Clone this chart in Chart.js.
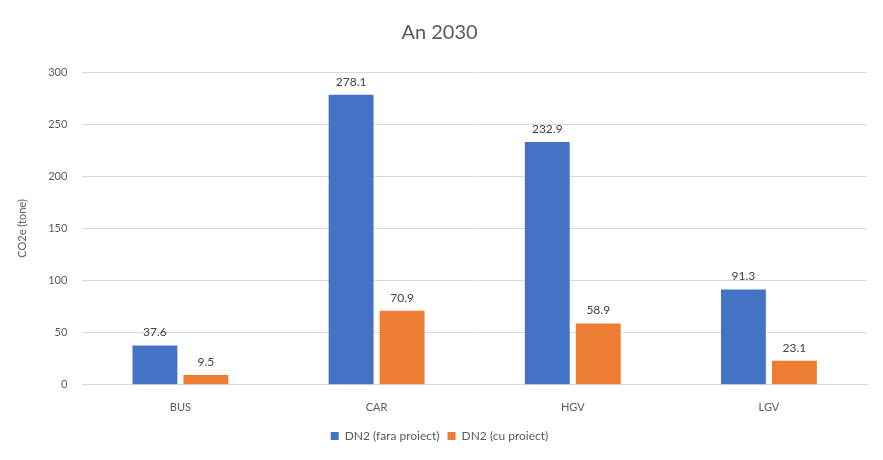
<!DOCTYPE html>
<html>
<head>
<meta charset="utf-8">
<script src="https://cdn.jsdelivr.net/npm/chart.js@4.4.0/dist/chart.umd.min.js"></script>
<style>
  html, body { margin: 0; padding: 0; background: #fff; }
  #wrap { width: 883px; height: 460px; }
</style>
</head>
<body>
<div id="wrap"><canvas id="co2Chart"></canvas></div>
<script>
const categories = ['BUS', 'CAR', 'HGV', 'LGV'];
const withoutProject = [37.6, 278.1, 232.9, 91.3];
const withProject = [9.5, 70.9, 58.9, 23.1];
const yTicks = [0, 50, 100, 150, 200, 250, 300];

// Draw the value above each bar
const valueLabels = {
  id: 'valueLabels',
  afterDatasetsDraw(chart) {
    const ctx = chart.ctx;
    ctx.save();
    ctx.font = '12px Lato';
    ctx.fillStyle = '#404040';
    ctx.textAlign = 'center';
    ctx.textBaseline = 'bottom';
    chart.data.datasets.forEach((ds, i) => {
      chart.getDatasetMeta(i).data.forEach((bar, j) => {
        ctx.fillText(ds.data[j].toFixed(1), bar.x, bar.y - 7);
      });
    });
    ctx.restore();
  }
};

document.addEventListener('DOMContentLoaded', function() {
  const ctx = document.getElementById('co2Chart').getContext('2d');
  new Chart(ctx, {
    type: 'bar',
    data: {
      labels: categories,
      datasets: [{
        label: 'DN2 (fara proiect)',
        data: withoutProject,
        backgroundColor: '#4472C4',
        categoryPercentage: 0.52,
        barPercentage: 0.88
      }, {
        label: 'DN2 (cu proiect)',
        data: withProject,
        backgroundColor: '#ED7D31',
        categoryPercentage: 0.52,
        barPercentage: 0.88
      }]
    },
    options: {
      responsive: true,
      maintainAspectRatio: false,
      animation: false,
      layout: {
        padding: { left: 12, right: 16, top: 10, bottom: 8 }
      },
      plugins: {
        title: {
          display: true,
          text: 'An 2030',
          color: '#595959',
          font: { family: 'Lato', size: 20, weight: 'normal' },
          padding: { top: 11, bottom: 27 }
        },
        legend: {
          position: 'bottom',
          labels: {
            color: '#595959',
            font: { family: 'Lato', size: 12 },
            boxWidth: 8,
            boxHeight: 8,
            padding: 8
          }
        },
        tooltip: { enabled: false }
      },
      scales: {
        y: {
          min: 0,
          max: 300,
          afterBuildTicks: function(axis) {
            axis.ticks = yTicks.map(v => ({ value: v }));
          },
          border: { display: false },
          grid: { color: '#d9d9d9', drawTicks: false },
          ticks: {
            color: '#595959',
            font: { family: 'Lato', size: 11 },
            padding: 15
          },
          title: {
            display: true,
            text: 'CO2e (tone)',
            color: '#595959',
            font: { family: 'Lato', size: 11 }
          }
        },
        x: {
          border: { color: '#d9d9d9' },
          grid: { display: false },
          ticks: {
            color: '#595959',
            font: { family: 'Lato', size: 11 },
            padding: 8
          }
        }
      }
    },
    plugins: [valueLabels]
  });
});
</script>
</body>
</html>
